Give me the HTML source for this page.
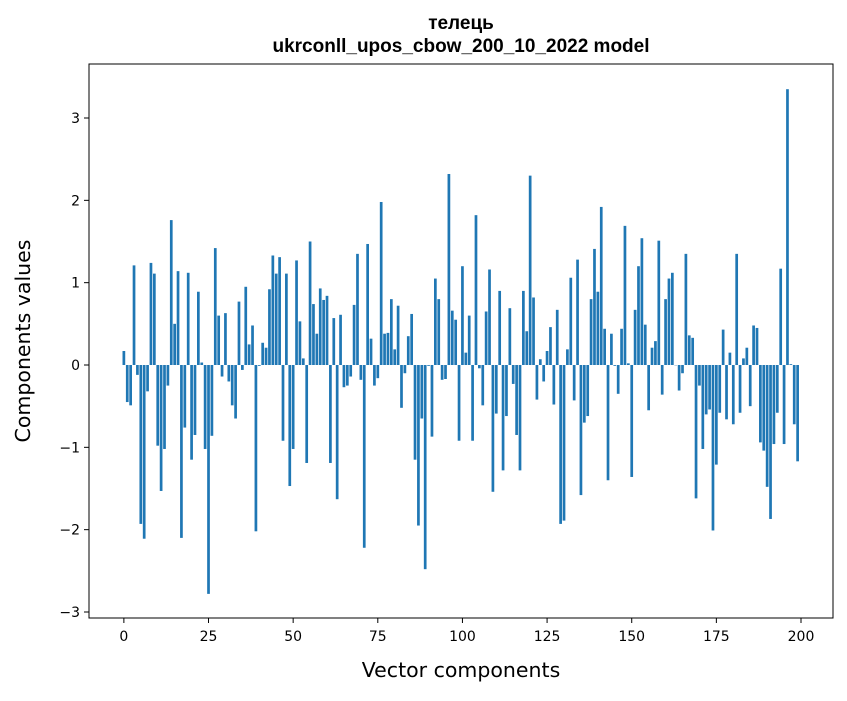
<!DOCTYPE html>
<html><head><meta charset="utf-8"><style>
body{margin:0;background:#fff;}
svg text{font-family:"DejaVu Sans","Liberation Sans",sans-serif;fill:#000;}
svg text.title{font-family:"Liberation Sans","DejaVu Sans",sans-serif;}
</style></head><body>
<svg id="chart" width="847" height="696" xmlns="http://www.w3.org/2000/svg">
<rect width="847" height="696" fill="#fff"/>
<text class="title" x="461" y="29" font-size="19" font-weight="bold" text-anchor="middle">телець</text>
<text class="title" x="461" y="52" font-size="19" font-weight="bold" text-anchor="middle">ukrconll_upos_cbow_200_10_2022 model</text>
<g id="bars"></g>
<g id="xticks"></g>
<g id="yticks"></g>
<rect x="89" y="64" width="744" height="554" fill="none" stroke="#000" stroke-width="1"/>
<text x="461" y="677" font-size="20.5" text-anchor="middle">Vector components</text>
<text x="0" y="0" font-size="20.5" text-anchor="middle" transform="translate(30,341) rotate(-90)">Components values</text>
</svg>
<script>
const values = [0.17,-0.45,-0.49,1.21,-0.12,-1.93,-2.11,-0.32,1.24,1.11,
-0.98,-1.53,-1.02,-0.25,1.76,0.5,1.14,-2.1,-0.76,1.12,
-1.15,-0.85,0.89,0.03,-1.02,-2.78,-0.86,1.42,0.6,-0.14,
0.63,-0.2,-0.49,-0.65,0.77,-0.06,0.95,0.25,0.48,-2.02,
-0.01,0.27,0.21,0.92,1.33,1.11,1.31,-0.92,1.11,-1.47,
-1.02,1.27,0.53,0.08,-1.19,1.5,0.74,0.38,0.93,0.79,
0.84,-1.19,0.57,-1.63,0.61,-0.27,-0.25,-0.14,0.73,1.35,
-0.18,-2.22,1.47,0.32,-0.25,-0.16,1.98,0.38,0.39,0.8,
0.19,0.72,-0.52,-0.1,0.35,0.62,-1.15,-1.95,-0.65,-2.48,
-0.01,-0.87,1.05,0.8,-0.18,-0.17,2.32,0.66,0.55,-0.92,
1.2,0.15,0.6,-0.92,1.82,-0.04,-0.49,0.65,1.16,-1.54,
-0.59,0.9,-1.28,-0.62,0.69,-0.23,-0.85,-1.28,0.9,0.41,
2.3,0.82,-0.42,0.07,-0.2,0.17,0.46,-0.48,0.67,-1.93,
-1.89,0.19,1.06,-0.43,1.28,-1.58,-0.7,-0.62,0.8,1.41,
0.89,1.92,0.44,-1.4,0.38,-0.01,-0.35,0.44,1.69,0.02,
-1.36,0.67,1.2,1.54,0.49,-0.55,0.21,0.29,1.51,-0.36,
0.8,1.05,1.12,0.0,-0.31,-0.1,1.35,0.36,0.33,-1.62,
-0.25,-1.02,-0.6,-0.54,-2.01,-1.21,-0.58,0.43,-0.66,0.15,
-0.72,1.35,-0.58,0.08,0.21,-0.5,0.48,0.45,-0.94,-1.04,
-1.48,-1.87,-0.96,-0.58,1.17,-0.96,3.35,0.01,-0.72,-1.17];
const xTickLabels = [0,25,50,75,100,125,150,175,200];
const yTickLabels = [-3,-2,-1,0,1,2,3];

const NS="http://www.w3.org/2000/svg";
const X0=89,X1=833,Y0=64,Y1=618;
const xMin=-10.3,xMax=209.45,yMin=-3.073,yMax=3.656;
function xs(v){return X0+(v-xMin)/(xMax-xMin)*(X1-X0);}
function ys(v){return Y1-(v-yMin)/(yMax-yMin)*(Y1-Y0);}
const bw=xs(0.8)-xs(0);
const gb=document.getElementById('bars');
values.forEach((v,i)=>{
  const r=document.createElementNS(NS,'rect');
  const y=Math.min(ys(v),ys(0)),h=Math.abs(ys(v)-ys(0));
  r.setAttribute('x',xs(i)-bw/2);r.setAttribute('y',y);
  r.setAttribute('width',bw);r.setAttribute('height',Math.max(h,0.3));
  r.setAttribute('fill','#1f77b4');
  
  
  gb.appendChild(r);
});
const gx=document.getElementById('xticks');
xTickLabels.forEach(t=>{
  const l=document.createElementNS(NS,'line');
  l.setAttribute('x1',xs(t));l.setAttribute('x2',xs(t));l.setAttribute('y1',Y1);l.setAttribute('y2',Y1+5);l.setAttribute('stroke','#000');
  
  
  gx.appendChild(l);
  const tx=document.createElementNS(NS,'text');
  tx.setAttribute('x',xs(t));tx.setAttribute('y',Y1+23);tx.setAttribute('font-size','14');tx.setAttribute('text-anchor','middle');
  tx.textContent=t;
  
  
  gx.appendChild(tx);
});
const gy=document.getElementById('yticks');
yTickLabels.forEach(t=>{
  const l=document.createElementNS(NS,'line');
  l.setAttribute('x1',X0-5);l.setAttribute('x2',X0);l.setAttribute('y1',ys(t));l.setAttribute('y2',ys(t));l.setAttribute('stroke','#000');
  
  
  gy.appendChild(l);
  const tx=document.createElementNS(NS,'text');
  tx.setAttribute('x',X0-9);tx.setAttribute('y',ys(t)+5);tx.setAttribute('font-size','14');tx.setAttribute('text-anchor','end');
  tx.textContent=t<0?'\u2212'+Math.abs(t):String(t);
  
  
  gy.appendChild(tx);
});
</script>
</body></html>
